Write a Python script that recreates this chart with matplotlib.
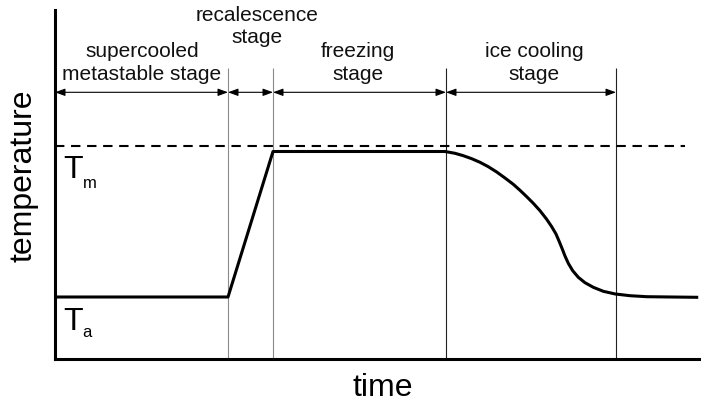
import matplotlib
matplotlib.use("Agg")
import matplotlib.pyplot as plt

plt.rcParams['font.family'] = ['Liberation Sans', 'DejaVu Sans']

# ---- data (time / temperature in arbitrary units) ----
curve_t = [0, 173, 218, 390, 400, 408.3, 416.7, 425, 433.3, 441.7, 450, 458.3,
           465, 471.7, 478.3, 485, 491.7, 496.7, 501, 504.3, 507, 510, 513.3,
           517.7, 523.3, 530, 538.3, 548.3, 560.3, 575, 591.7, 641.7]
curve_T = [62, 62, 207.5, 207.5, 205.7, 203.3, 200.3, 196.7, 192.3, 187, 181, 174.7,
           168.7, 162.3, 155.7, 148.3, 139.7, 132.3, 125, 117.3, 110.7, 103, 95.7,
           88.3, 81.7, 76.3, 71.7, 67.7, 65, 63.3, 62.3, 61.7]
Tm_level = 213
dash_end = 630
stage_bounds = [0, 173, 218, 391, 561]
stage_line1 = ["supercooled", "recalescence", "freezing", "ice cooling"]
stage_line2 = ["metastable stage", "stage", "stage", "stage"]
stage_centers = [87, 202, 303, 479]
boundary_colors = ["#8a8a8a", "#8a8a8a", "#222222", "#222222"]

W, H = 701, 411
fig = plt.figure(figsize=(W / 100, H / 100), dpi=100)
ax = fig.add_axes([55 / W, (H - 359) / H, (W - 55) / W, (359 - 10) / H])
ax.set_xlim(0, W - 55)
ax.set_ylim(0, 349)
ax.set_xticks([])
ax.set_yticks([])
for s in ["top", "right"]:
    ax.spines[s].set_visible(False)
for s in ["left", "bottom"]:
    ax.spines[s].set_linewidth(2.2)

# vertical stage boundaries
for xb, c in zip(stage_bounds[1:], boundary_colors):
    ax.plot([xb, xb], [0, 291], color=c, lw=0.8, solid_capstyle="butt")

# dashed melting line
ax.plot([0, dash_end], [Tm_level, Tm_level], color="black", lw=1.5,
        linestyle=(0, (4.5, 3.2)))

# temperature curve
ax.plot(curve_t, curve_T, color="black", lw=2.2, solid_joinstyle="round")

# arrows
arrow_y = 359 - 92.3
for a, b in zip(stage_bounds[:-1], stage_bounds[1:]):
    ax.annotate("", xy=(b, arrow_y), xytext=(a, arrow_y),
                arrowprops=dict(arrowstyle="<|-|>,head_length=0.6,head_width=0.22",
                                mutation_scale=10, shrinkA=0, shrinkB=0,
                                lw=0.8, color="black"))

# stage labels
for i, (l1, l2, xc) in enumerate(zip(stage_line1, stage_line2, stage_centers)):
    if i == 1:
        y1, y2 = 338.3, 315.7
    else:
        y1, y2 = 302.3, 279
    ax.text(xc, y1, l1, ha="center", va="baseline", fontsize=15, color="#111111")
    ax.text(xc, y2, l2, ha="center", va="baseline", fontsize=15, color="#111111")

# Tm / Ta labels
ax.text(8, 181, "T", ha="left", va="baseline", fontsize=23)
ax.text(27.5, 171.5, "m", ha="left", va="baseline", fontsize=12)
ax.text(8, 29, "T", ha="left", va="baseline", fontsize=23)
ax.text(27.5, 22, "a", ha="left", va="baseline", fontsize=12)

# axis labels
fig.text(24 / W, 1 - 176 / H, "temperature", rotation=90, ha="center",
         va="center", fontsize=23)
fig.text(383 / W, 1 - 388 / H, "time", ha="center", va="center", fontsize=23)

fig.savefig("out.png", dpi=100)
